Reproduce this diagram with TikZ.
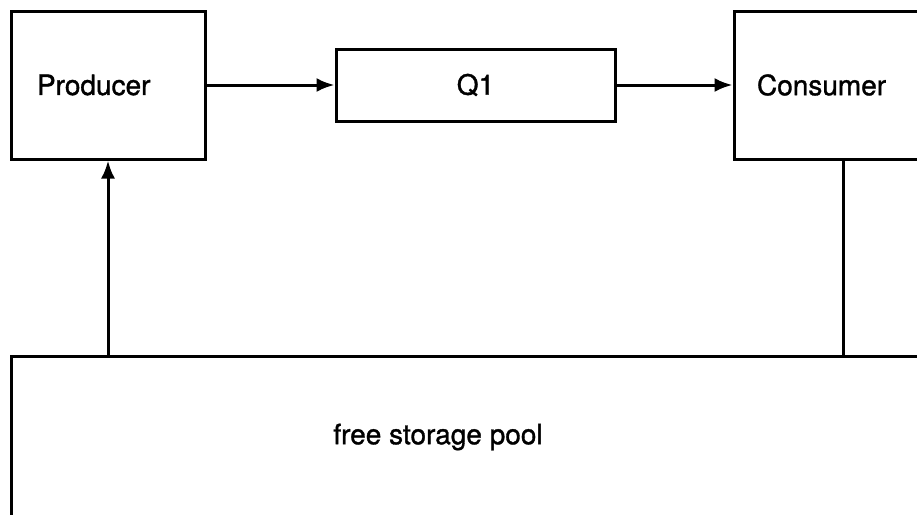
\documentclass[tikz,border=0pt]{standalone}
\usepackage{fontspec}
\setmainfont{TeX Gyre Heros}[UprightFeatures={FakeBold=1.2}]
\usepackage{tikz}
\usetikzlibrary{arrows.meta}

\tikzset{
   box/.style={draw, line width=3pt, rectangle, inner sep=0pt, align=left},
   flow/.style={line width=3pt, -{Latex[length=18pt,width=14pt]}}
}

\begin{document}
\begin{tikzpicture}[x=1pt, y=-1pt, font=\fontsize{28}{33}\selectfont]
   		\useasboundingbox (0,0) rectangle (917,514);
   		
   		\node[box, minimum width=194pt, minimum height=148pt, text width=142pt] (producer) at (108,85) {Producer};
   		\node[box, minimum width=279pt, minimum height=72pt, align=center] (q1) at (475.5,85) {Q1};
   		\node[box, minimum width=218pt, minimum height=148pt, text width=172pt] (consumer) at (843,85) {Consumer};
   		\node[box, minimum width=960pt, minimum height=220pt] (pool) at (491,466) {};
   		\node (pooltext) at (438,437) {free storage pool};
   		
   		\draw[flow] (producer) -- (q1);
   		\draw[flow] (q1) -- (consumer);
   		\draw[flow] (pool.north -| producer.south) -- (producer.south);
   		\draw[line width=3pt] (consumer.south) -- (consumer.south |- pool.north);
   	\end{tikzpicture}
\end{document}
